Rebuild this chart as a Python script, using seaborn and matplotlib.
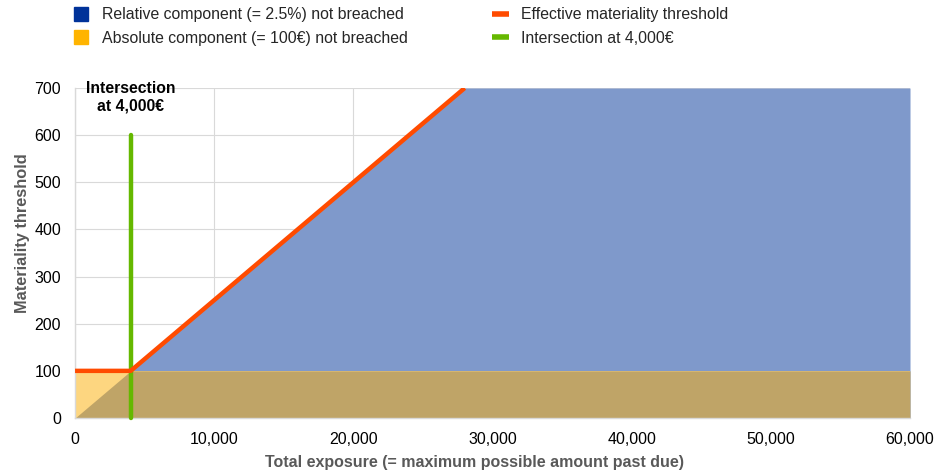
import matplotlib
matplotlib.use("Agg")
import matplotlib.pyplot as plt
import seaborn as sns
import pandas as pd
from matplotlib.lines import Line2D
from matplotlib.ticker import FuncFormatter

# values
exposure = [0, 4000, 28000]
threshold = [100, 100, 700]
relative_x = [0, 28000, 60000]
relative_y = [0, 700, 700]
absolute_x = [0, 60000]
absolute_y = [100, 100]
overlap_x = [0, 4000, 60000]
overlap_y = [0, 100, 100]
intersect_x = [4000, 4000]
intersect_y = [0, 600]

sns.set_theme(style="whitegrid")
plt.rcParams['font.family'] = ['Liberation Sans', 'DejaVu Sans']

fig = plt.figure(figsize=(9.44, 4.75), dpi=100)
ax = fig.add_axes([0.0795, 0.12, 0.8845, 0.6947])

ax.fill_between(relative_x, 0, relative_y, color="#7F99CB", lw=0, zorder=1)
ax.fill_between(absolute_x, 0, absolute_y, color="#FDD680", lw=0, zorder=1)
ax.fill_between(overlap_x, 0, overlap_y, color="#BFA467", lw=0, zorder=1)

df = pd.DataFrame({"x": exposure, "y": threshold})
sns.lineplot(data=df, x="x", y="y", color="#FF4B00", lw=3.2, ax=ax, zorder=4,
             solid_capstyle="butt", solid_joinstyle="miter")
gdf = pd.DataFrame({"x": intersect_x, "y": intersect_y})
sns.lineplot(data=gdf, x="x", y="y", color="#65B800", lw=3.2, ax=ax, zorder=3,
             solid_capstyle="round", estimator=None, sort=False, clip_on=False)

ax.text(4000, 680, "Intersection\nat 4,000€", ha="center", va="center",
        fontsize=11.3, fontweight="bold", color="#000000", linespacing=1.2,
        zorder=6)

ax.set_xlim(0, 60000)
ax.set_ylim(0, 700)
ax.set_xticks(range(0, 60001, 10000))
ax.set_yticks(range(0, 701, 100))
ax.xaxis.set_major_formatter(FuncFormatter(lambda v, p: f"{int(v):,}"))
ax.tick_params(labelsize=11.5, colors="#000000", length=0)
ax.tick_params(axis="x", pad=10)
ax.tick_params(axis="y", pad=10)
ax.grid(True, color="#D9D9D9", lw=0.8)
ax.set_axisbelow(True)
for s in ["top", "right"]:
    ax.spines[s].set_visible(False)
for s in ["left", "bottom"]:
    ax.spines[s].set_color("#D9D9D9")
    ax.spines[s].set_linewidth(1.0)
    ax.spines[s].set_zorder(2)
ax.set_facecolor("white")

ax.set_xlabel("Total exposure (= maximum possible amount past due)", fontsize=11.5,
              fontweight="bold", color="#595959")
ax.set_ylabel("Materiality threshold", fontsize=11.8, fontweight="bold",
              color="#595959")
ax.xaxis.set_label_coords(0.478, -0.112)
ax.yaxis.set_label_coords(-0.0544, 0.559)

handles = [
    Line2D([], [], marker="s", ls="none", color="#003299", markersize=10.5),
    Line2D([], [], marker="s", ls="none", color="#FFB400", markersize=10.5),
    Line2D([], [], color="#FF4B00", lw=4, solid_capstyle="butt"),
    Line2D([], [], color="#65B800", lw=4, solid_capstyle="butt"),
]
labels = [
    "Relative component (= 2.5%) not breached",
    "Absolute component (= 100€) not breached",
    "Effective materiality threshold",
    "Intersection at 4,000€",
]
fig.legend(handles, labels, ncol=2, loc="upper left", bbox_to_anchor=(0.062, 1.015),
           frameon=False, fontsize=11.4, handlelength=1.1, handletextpad=0.74,
           columnspacing=5.3, labelspacing=0.55)

fig.savefig("out.png", dpi=100)
